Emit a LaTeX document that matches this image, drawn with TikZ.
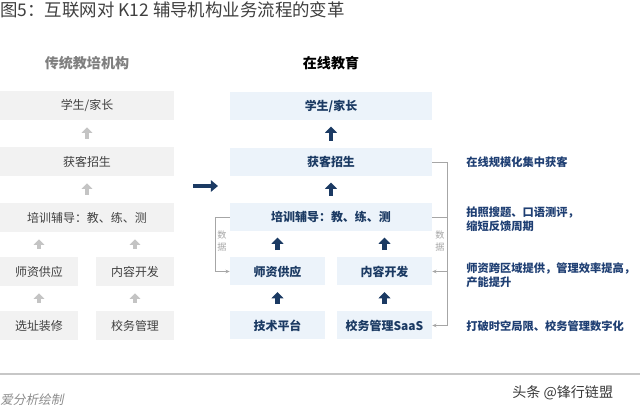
\documentclass[tikz,border=0pt]{standalone}
\usepackage{fontspec}
\setmainfont{Noto Sans CJK SC}
\newfontfamily\slantcjk[FakeSlant=0.2]{Noto Sans CJK SC}
\usetikzlibrary{positioning, arrows.meta, shapes}

\definecolor{oldfill}{HTML}{F2F2F2}
\definecolor{oldtext}{HTML}{404040}
\definecolor{oldarrowc}{HTML}{C4C4C4}
\definecolor{newfill}{HTML}{ECF3FA}
\definecolor{navy}{HTML}{1B3A63}
\definecolor{notecolor}{HTML}{1F3F73}
\definecolor{datagray}{HTML}{A6A6A6}
\definecolor{headgray}{HTML}{7F7F7F}
\definecolor{titlegray}{HTML}{3F3F3F}

\begin{document}
\begin{tikzpicture}[
    x=0.025cm, y=-0.025cm,
    oldbox/.style={rectangle, fill=oldfill, inner sep=0pt,
                   minimum height=0.725cm, text=oldtext,
                   font=\fontsize{8.5}{10}\selectfont},
    oldwide/.style={oldbox, minimum width=4.325cm},
    oldhalf/.style={oldbox, minimum width=1.925cm},
    newbox/.style={rectangle, fill=newfill, inner sep=0pt,
                   minimum height=0.7cm, text=navy,
                   font=\fontsize{8.5}{10}\selectfont\bfseries},
    newwide/.style={newbox, minimum width=5.05cm},
    newhalf/.style={newbox, minimum width=2.375cm},
    oldarrow/.style={-{Triangle[width=7.5pt, length=4pt]}, line width=2.8pt,
                     draw=oldarrowc, shorten <=5.5pt, shorten >=5pt},
    newarrow/.style={-{Triangle[width=8.5pt, length=4.5pt]}, line width=3pt,
                     draw=navy, shorten <=5pt, shorten >=4.5pt},
    shiftarrow/.style={-{Triangle[width=8pt, length=5pt]}, line width=2.2pt, draw=navy},
    dataline/.style={draw=datagray, line width=0.5pt},
    dataarrow/.style={dataline, -{Stealth[length=3pt, width=2.5pt]}},
    datalabel/.style={text=datagray, align=center, inner sep=0pt,
                      font=\fontsize{6.5}{8}\selectfont},
    note/.style={anchor=west, align=left, text=notecolor, inner sep=0pt,
                 font=\fontsize{8}{10}\selectfont\bfseries},
    heading/.style={font=\fontsize{10}{12}\selectfont\bfseries}
  ]
    \useasboundingbox (0,0) rectangle (640,411);

    % Title
    \node[anchor=west, inner sep=0pt, text=titlegray,
          font=\fontsize{12.4}{14}\selectfont] (title) at (0,10)
      {图5：互联网对 K12 辅导机构业务流程的变革};

    % Column headings
    \node[heading, text=headgray] (headOld) at (87,63) {传统教培机构};
    \node[heading, text=black] (headNew) at (331,63) {在线教育};

    % Traditional institution (left, grey)
    \node[oldwide] (stuOld) at (87,105.5) {学生/家长};
    \node[oldwide] (acqOld) at (87,161.5) {获客招生};
    \node[oldwide] (trainOld) at (87,217.5) {培训辅导：教、练、测};
    \node[oldhalf] (teachOld) at (39,271.5) {师资供应};
    \node[oldhalf] (contentOld) at (135,271.5) {内容开发};
    \node[oldhalf] (siteOld) at (39,325.5) {选址装修};
    \node[oldhalf] (adminOld) at (135,325.5) {校务管理};

    % Grey arrows
    \draw[oldarrow] (acqOld.north) -- (stuOld.south);
    \draw[oldarrow] (trainOld.north) -- (acqOld.south);
    \draw[oldarrow] (teachOld.north) -- (teachOld.north |- trainOld.south);
    \draw[oldarrow] (contentOld.north) -- (contentOld.north |- trainOld.south);
    \draw[oldarrow] (siteOld.north) -- (teachOld.south);
    \draw[oldarrow] (adminOld.north) -- (contentOld.south);

    % Change arrow
    \coordinate (shiftFrom) at (193,186);
    \coordinate (shiftTo) at (218,186);
    \draw[shiftarrow] (shiftFrom) -- (shiftTo);

    % Online education (right, blue)
    \node[newwide] (stuNew) at (331,106) {学生/家长};
    \node[newwide] (acqNew) at (331,162) {获客招生};
    \node[newwide] (trainNew) at (331,217) {培训辅导：教、练、测};
    \node[newhalf] (teachNew) at (277.5,271.5) {师资供应};
    \node[newhalf] (contentNew) at (384.5,271.5) {内容开发};
    \node[newhalf] (techNew) at (277.5,325.5) {技术平台};
    \node[newhalf] (saasNew) at (384.5,325.5) {校务管理SaaS};

    % Blue arrows
    \draw[newarrow] (acqNew.north) -- (stuNew.south);
    \draw[newarrow] (trainNew.north) -- (acqNew.south);
    \draw[newarrow] (teachNew.north) -- (teachNew.north |- trainNew.south);
    \draw[newarrow] (contentNew.north) -- (contentNew.north |- trainNew.south);
    \draw[newarrow] (techNew.north) -- (teachNew.south);
    \draw[newarrow] (saasNew.north) -- (contentNew.south);

    % Data feedback loops
    \coordinate (loopL) at (215,0);
    \coordinate (loopR) at (447,0);
    \draw[dataarrow] (trainNew.west) -- (trainNew.west -| loopL)
      -- (teachNew.west -| loopL) -- (teachNew.west);
    \draw[dataarrow] (acqNew.east) -- (acqNew.east -| loopR)
      -- (saasNew.east -| loopR) -- (saasNew.east);
    \draw[dataline] (trainNew.east) -- (trainNew.east -| loopR);
    \draw[dataarrow] (contentNew.east -| loopR) -- (contentNew.east);
    \node[datalabel] (dataL) at (222,241) {数\\据};
    \node[datalabel] (dataR) at (440,241) {数\\据};

    % Notes on the right
    \node[note] (noteAcq) at (466,162) {在线规模化集中获客};
    \node[note] (noteTrain) at (466,219) {拍照搜题、口语测评，\\缩短反馈周期};
    \node[note] (noteTeach) at (466,275) {师资跨区域提供，管理效率提高，\\产能提升};
    \node[note] (noteSaas) at (466,326) {打破时空局限、校务管理数字化};

    % Footer
    \coordinate (footL) at (0,374);
    \coordinate (footR) at (640,374);
    \draw[draw=black!22, line width=1.2pt] (footL) -- (footR);
    \node[anchor=west, inner sep=0pt, text=black!45,
          font=\slantcjk\fontsize{9}{10}\selectfont] (source) at (0,400) {爱分析绘制};
    \node[anchor=west, inner sep=0pt, text=black!78,
          font=\fontsize{10}{12}\selectfont] (mark) at (512,393) {头条 @锋行链盟};

  \end{tikzpicture}
\end{document}
